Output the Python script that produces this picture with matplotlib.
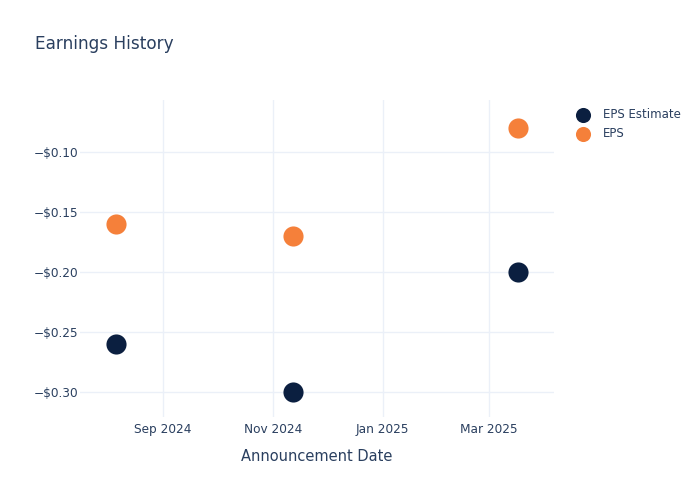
import matplotlib
matplotlib.use("Agg")
import matplotlib.pyplot as plt
import matplotlib.dates as mdates
from matplotlib.ticker import FuncFormatter, FixedLocator
import datetime as dt

dates = ["2024-08-06", "2024-11-12", "2025-03-17"]
eps_estimate = [-0.26, -0.30, -0.20]
eps_actual = [-0.16, -0.17, -0.08]
series_names = ["EPS Estimate", "EPS"]
yticks = [-0.30, -0.25, -0.20, -0.15, -0.10]
xticks = ["2024-09-01", "2024-11-01", "2025-01-01", "2025-03-01"]

TEXT = "#2a3f5f"
GRID = "#ebf0f8"
NAVY = "#0b1f40"
ORANGE = "#f5803a"

plt.rcParams['font.family'] = ['DejaVu Sans']

x = [dt.datetime.strptime(d, "%Y-%m-%d") for d in dates]
fig = plt.figure(figsize=(7, 5), dpi=100)
ax = fig.add_axes([80/700, 83/500, (554-80)/700, (417-100)/500])

ax.scatter(x, eps_estimate, s=210, color=NAVY, label=series_names[0], zorder=3, linewidths=0)
ax.scatter(x, eps_actual, s=210, color=ORANGE, label=series_names[1], zorder=3, linewidths=0)

ax.set_xlim(dt.datetime(2024, 7, 17), dt.datetime(2025, 4, 6))
ax.set_ylim(-0.3211, -0.0566)

ax.xaxis.set_major_locator(FixedLocator([mdates.date2num(dt.datetime.strptime(d, "%Y-%m-%d")) for d in xticks]))
ax.xaxis.set_major_formatter(mdates.DateFormatter("%b %Y"))
ax.yaxis.set_major_locator(FixedLocator(yticks))
ax.yaxis.set_major_formatter(FuncFormatter(lambda v, p: ("\u2212" if v < 0 else "") + "${:.2f}".format(abs(v))))

for s in ax.spines.values():
    s.set_visible(False)
ax.grid(True, color=GRID, linewidth=1.0)
ax.set_axisbelow(True)
ax.tick_params(axis='both', length=0, colors=TEXT, labelsize=8.7)
ax.tick_params(axis='y', pad=1)
ax.tick_params(axis='x', pad=4)

ax.set_xlabel("Announcement Date", color=TEXT, fontsize=10.5, labelpad=10)
fig.text(35/700, 1 - 44/500, "Earnings History", color=TEXT, fontsize=12.2, va='center', ha='left')

leg = ax.legend(loc='upper left', bbox_to_anchor=(571/700, 1 - 108/500), bbox_transform=fig.transFigure,
                frameon=False, fontsize=8.5, handletextpad=0.7, labelspacing=0.55, markerscale=0.75,
                borderpad=0, borderaxespad=0)
for t in leg.get_texts():
    t.set_color(TEXT)

fig.savefig("out.png", dpi=100)
